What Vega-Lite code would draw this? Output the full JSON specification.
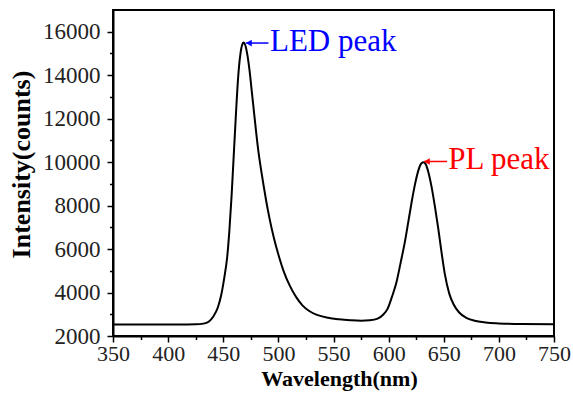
{
  "$schema": "https://vega.github.io/schema/vega-lite/v6.json",
  "width": 441,
  "height": 326,
  "autosize": "none",
  "padding": {"left": 113, "top": 10, "right": 19, "bottom": 67},
  "background": "white",
  "config": {
    "font": "Times New Roman, Liberation Serif, serif",
    "view": {"stroke": "#000", "strokeWidth": 2},
    "axis": {
      "grid": false,
      "labelFont": "Times New Roman, Liberation Serif, serif",
      "titleFont": "Times New Roman, Liberation Serif, serif",
      "labelColor": "#222",
      "titleColor": "#000",
      "domainColor": "#000",
      "domainWidth": 2,
      "tickColor": "#000",
      "tickWidth": 1.5
    }
  },
  "datasets": {
    "spectrum": [
      {"wavelength": 350, "counts": 2530},
      {"wavelength": 380, "counts": 2530},
      {"wavelength": 410, "counts": 2530},
      {"wavelength": 425, "counts": 2540},
      {"wavelength": 432, "counts": 2570},
      {"wavelength": 437, "counts": 2670},
      {"wavelength": 441, "counts": 2900},
      {"wavelength": 445, "counts": 3300},
      {"wavelength": 448, "counts": 3850},
      {"wavelength": 451, "counts": 4700},
      {"wavelength": 453.5, "counts": 5600},
      {"wavelength": 455.5, "counts": 6800},
      {"wavelength": 457.5, "counts": 8400},
      {"wavelength": 459.5, "counts": 10300},
      {"wavelength": 461.5, "counts": 12200},
      {"wavelength": 463.5, "counts": 13900},
      {"wavelength": 465.5, "counts": 14950},
      {"wavelength": 467.3, "counts": 15420},
      {"wavelength": 468.5, "counts": 15500},
      {"wavelength": 470, "counts": 15380},
      {"wavelength": 472, "counts": 14900},
      {"wavelength": 474, "counts": 14150},
      {"wavelength": 476, "counts": 13200},
      {"wavelength": 478, "counts": 12250},
      {"wavelength": 480, "counts": 11300},
      {"wavelength": 482, "counts": 10450},
      {"wavelength": 484, "counts": 9750},
      {"wavelength": 486.5, "counts": 8950},
      {"wavelength": 489, "counts": 8200},
      {"wavelength": 492, "counts": 7400},
      {"wavelength": 496, "counts": 6500},
      {"wavelength": 500, "counts": 5750},
      {"wavelength": 505, "counts": 4950},
      {"wavelength": 510, "counts": 4350},
      {"wavelength": 516, "counts": 3800},
      {"wavelength": 522, "counts": 3400},
      {"wavelength": 528, "counts": 3150},
      {"wavelength": 535, "counts": 2970},
      {"wavelength": 545, "counts": 2840},
      {"wavelength": 555, "counts": 2770},
      {"wavelength": 565, "counts": 2725},
      {"wavelength": 575, "counts": 2700},
      {"wavelength": 583, "counts": 2720},
      {"wavelength": 590, "counts": 2800},
      {"wavelength": 595, "counts": 2980},
      {"wavelength": 599, "counts": 3250},
      {"wavelength": 603, "counts": 3800},
      {"wavelength": 607, "counts": 4450},
      {"wavelength": 611, "counts": 5400},
      {"wavelength": 615, "counts": 6400},
      {"wavelength": 618, "counts": 7300},
      {"wavelength": 621, "counts": 8200},
      {"wavelength": 624, "counts": 9000},
      {"wavelength": 627, "counts": 9620},
      {"wavelength": 629.5, "counts": 9930},
      {"wavelength": 631.5, "counts": 10000},
      {"wavelength": 633.5, "counts": 9920},
      {"wavelength": 636, "counts": 9550},
      {"wavelength": 639, "counts": 8850},
      {"wavelength": 642, "counts": 7950},
      {"wavelength": 645, "counts": 6950},
      {"wavelength": 648, "counts": 5850},
      {"wavelength": 651, "counts": 4850},
      {"wavelength": 655, "counts": 3950},
      {"wavelength": 659, "counts": 3450},
      {"wavelength": 664, "counts": 3080},
      {"wavelength": 670, "counts": 2850},
      {"wavelength": 678, "counts": 2700},
      {"wavelength": 688, "counts": 2620},
      {"wavelength": 700, "counts": 2580},
      {"wavelength": 720, "counts": 2550},
      {"wavelength": 750, "counts": 2540}
    ],
    "notes": [
      {"label": "LED peak", "tip": 470.5, "end": 491, "tx": 492.4, "y": 15480, "color": "#0000FF"},
      {"label": "PL peak", "tip": 632, "end": 653, "tx": 654.1, "y": 10030, "color": "#FF0000"}
    ]
  },
  "layer": [
    {
      "data": {"name": "spectrum"},
      "mark": {"type": "line", "color": "#000", "strokeWidth": 2, "interpolate": "monotone"},
      "encoding": {
        "x": {
          "field": "wavelength", "type": "quantitative",
          "scale": {"domain": [350, 750], "nice": false, "zero": false},
          "axis": {
            "orient": "bottom",
            "values": [350, 400, 450, 500, 550, 600, 650, 700, 750],
            "format": "d",
            "tickSize": 6,
            "labelFontSize": 22,
            "labelPadding": 1,
            "labelFlush": false,
            "title": "Wavelength(nm)",
            "titleFontSize": 22,
            "titleFontWeight": "bold",
            "titleBaseline": "alphabetic",
            "titleX": 226,
            "titleY": 49
          }
        },
        "y": {
          "field": "counts", "type": "quantitative",
          "scale": {"domain": [2000, 17000], "nice": false, "zero": false},
          "axis": {
            "orient": "left",
            "values": [2000, 4000, 6000, 8000, 10000, 12000, 14000, 16000],
            "format": "d",
            "tickSize": 6,
            "labelFontSize": 23,
            "labelPadding": 7,
            "labelFlush": false,
            "title": "Intensity(counts)",
            "titleFontSize": 26,
            "titleFontWeight": "bold",
            "titleBaseline": "alphabetic",
            "titleAngle": -90,
            "titleX": -84,
            "titleY": 154
          }
        }
      }
    },
    {
      "data": {"name": "notes"},
      "mark": {"type": "rule", "strokeWidth": 1.5},
      "encoding": {
        "x": {
          "field": "tip", "type": "quantitative",
          "scale": {"domain": [350, 750], "nice": false, "zero": false},
          "axis": {
            "orient": "bottom",
            "values": [375, 425, 475, 525, 575, 625, 675, 725],
            "tickSize": 3.5,
            "labels": false,
            "domain": false,
            "title": null
          }
        },
        "x2": {"field": "end"},
        "y": {
          "field": "y", "type": "quantitative",
          "scale": {"domain": [2000, 17000], "nice": false, "zero": false},
          "axis": {
            "orient": "left",
            "values": [3000, 5000, 7000, 9000, 11000, 13000, 15000],
            "tickSize": 3.5,
            "labels": false,
            "domain": false,
            "title": null
          }
        },
        "color": {"field": "color", "type": "nominal", "scale": null}
      }
    },
    {
      "data": {"name": "notes"},
      "mark": {"type": "point", "shape": "triangle-left", "filled": true, "opacity": 1, "size": 45, "xOffset": 3},
      "encoding": {
        "x": {"field": "tip", "type": "quantitative", "axis": null},
        "y": {"field": "y", "type": "quantitative", "axis": null},
        "color": {"field": "color", "type": "nominal", "scale": null}
      }
    },
    {
      "data": {"name": "notes"},
      "mark": {"type": "text", "align": "left", "baseline": "middle", "font": "Times New Roman, Liberation Serif, serif", "fontSize": 31, "dy": -1},
      "encoding": {
        "x": {"field": "tx", "type": "quantitative", "axis": null},
        "y": {"field": "y", "type": "quantitative", "axis": null},
        "text": {"field": "label"},
        "color": {"field": "color", "type": "nominal", "scale": null}
      }
    }
  ],
  "resolve": {"axis": {"x": "independent", "y": "independent"}}
}
